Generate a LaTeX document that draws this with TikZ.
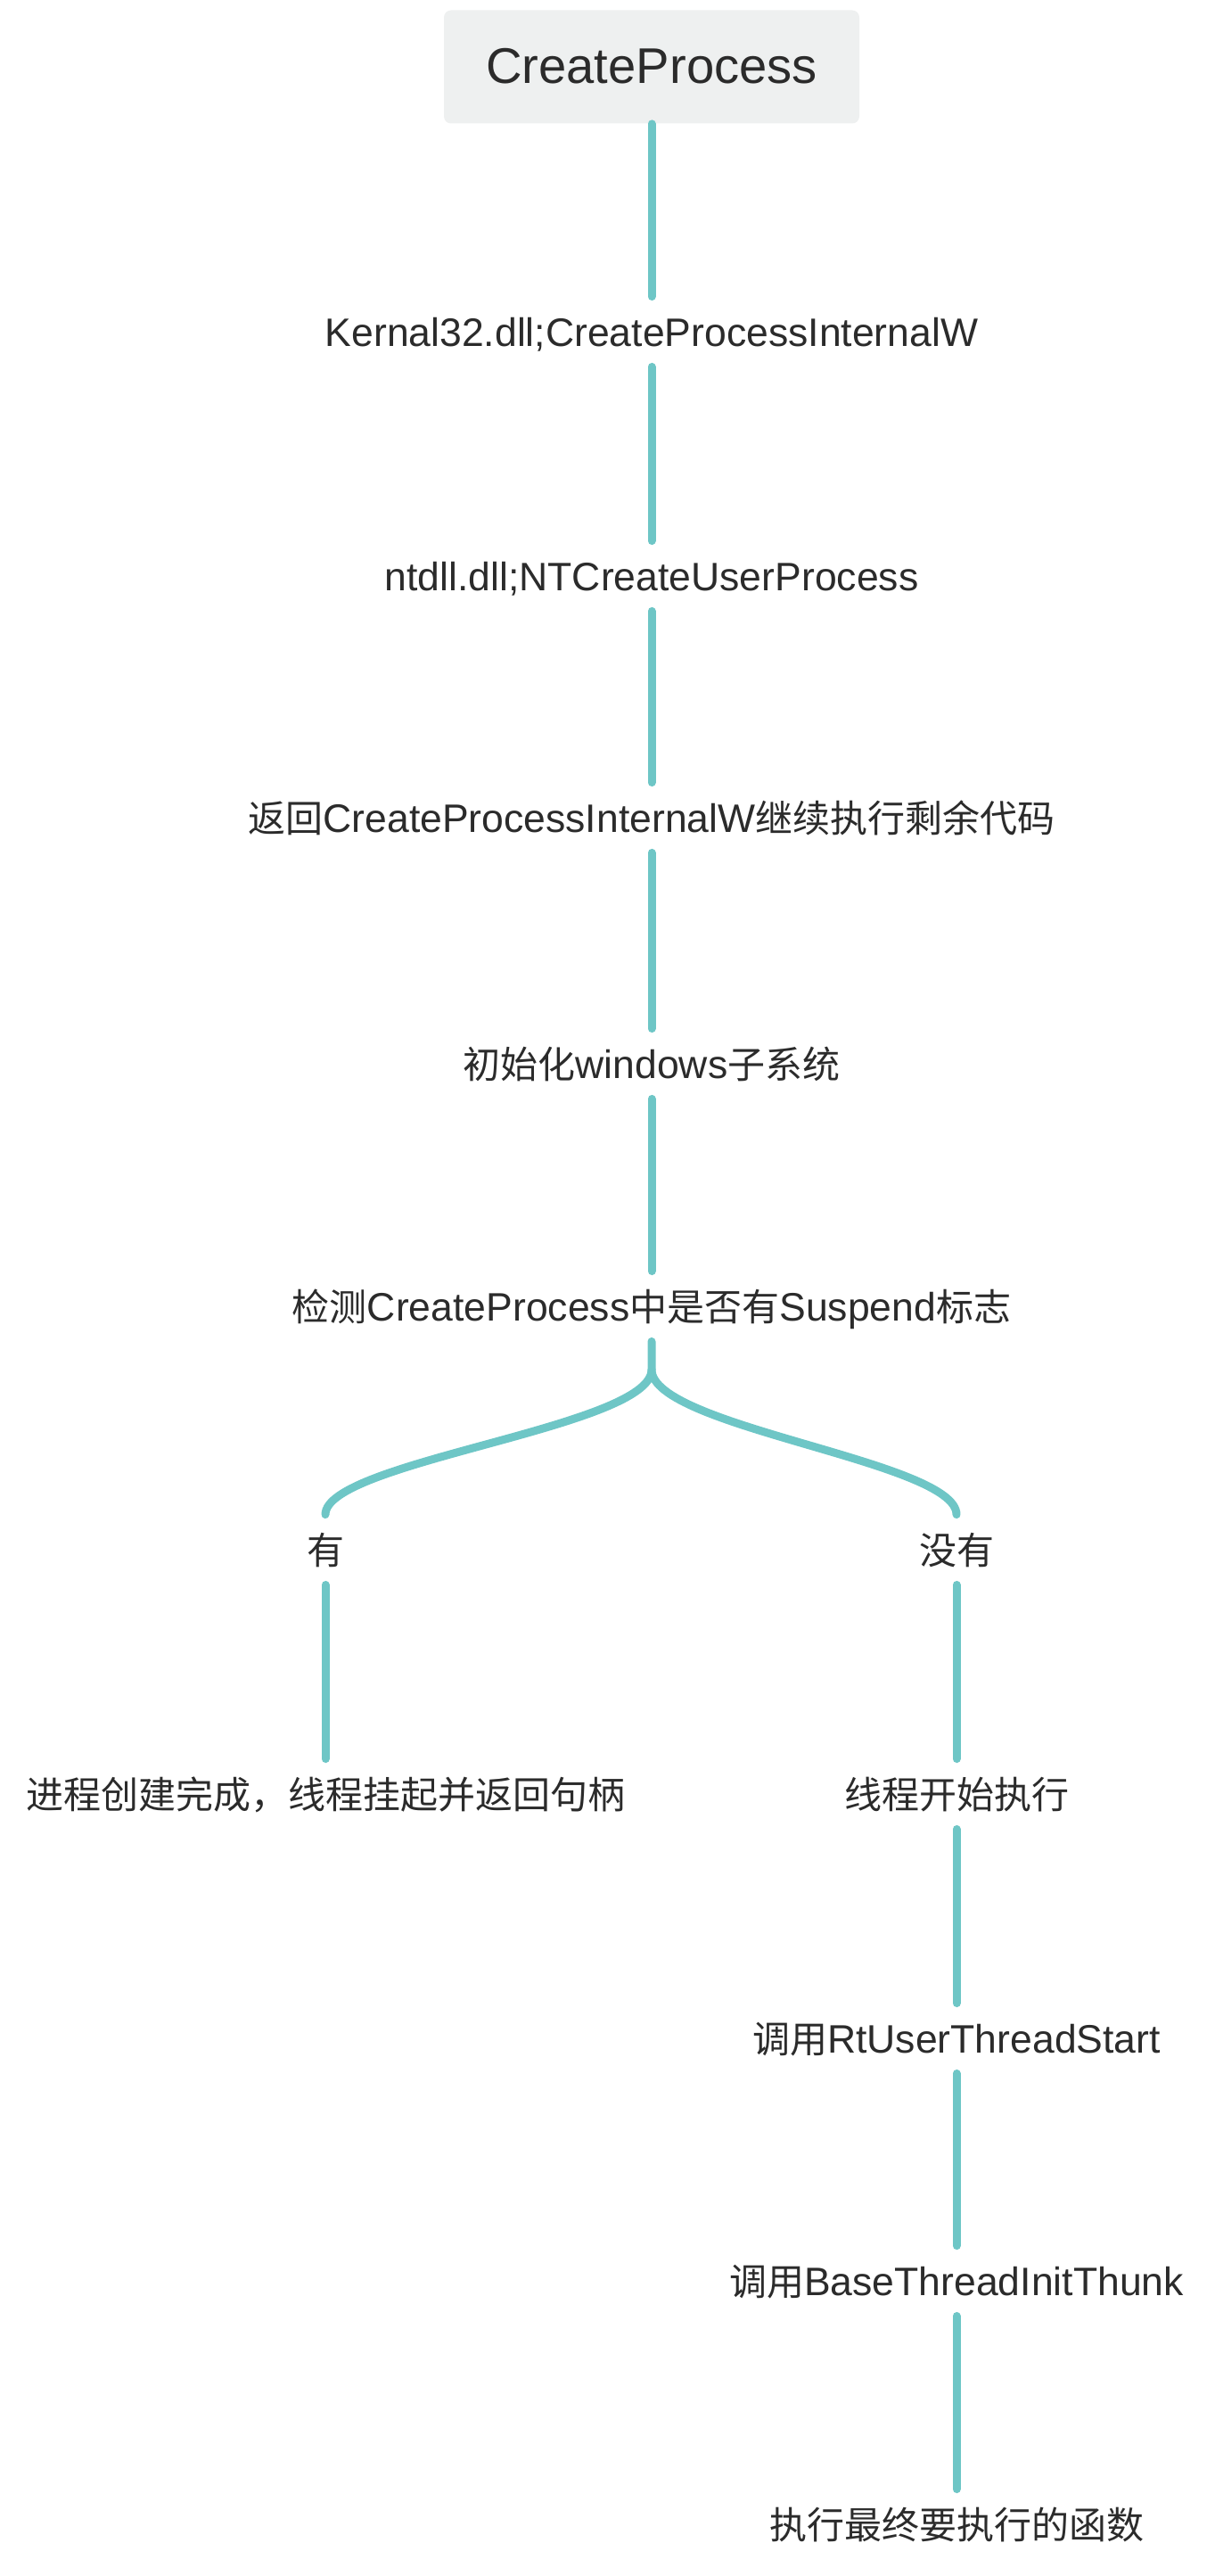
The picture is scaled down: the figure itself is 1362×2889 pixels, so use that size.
\documentclass[tikz,border=0pt]{standalone}
\usepackage{fontspec}
\setmainfont{Liberation Sans}[Scale=1.06]
\newfontfamily\cjk{Noto Sans CJK SC}
\newcommand{\zh}[1]{{\cjk #1}}

\definecolor{branch}{HTML}{6EC6C6}
\definecolor{ink}{HTML}{2B2B2B}
\definecolor{rootfill}{HTML}{EEF0F0}

\tikzset{
  topic/.style={inner sep=0pt, minimum height=39pt, text height=16pt, text depth=0pt,
    text=ink, font=\fontsize{21}{25}\selectfont},
  root/.style={topic, fill=rootfill, rounded corners=4pt, minimum width=233pt,
    minimum height=63.5pt, text height=19pt, font=\fontsize{26.5}{30}\selectfont},
  link/.style={line width=4.5pt, color=branch, line cap=round},
}

\begin{document}
\begin{tikzpicture}[x=0.5pt, y=-0.5pt]
\useasboundingbox (0,0) rectangle (1362,2889);

% main trunk
\node[root] (create) at (731,75) {CreateProcess};
\node[topic] (kernal) at (731,372) {Kernal32.dll;CreateProcessInternalW};
\node[topic] (ntdll) at (731,646) {ntdll.dll;NTCreateUserProcess};
\node[topic] (back) at (731,917) {\zh{返回}CreateProcessInternalW\zh{继续执行剩余代码}};
\node[topic] (initsub) at (731,1193) {\zh{初始化}windows\zh{子系统}};
\node[topic] (check) at (731,1465) {\zh{检测}CreateProcess\zh{中是否有}Suspend\zh{标志}};

% two branches
\node[topic] (yes) at (365,1738) {\zh{有}};
\node[topic] (no) at (1073,1738) {\zh{没有}};
\node[topic] (suspend) at (365,2012) {\zh{进程创建完成，线程挂起并返回句柄}};
\node[topic] (run) at (1073,2012) {\zh{线程开始执行}};
\node[topic] (rtstart) at (1073,2286) {\zh{调用}RtUserThreadStart};
\node[topic] (basethunk) at (1073,2558) {\zh{调用}BaseThreadInitThunk};
\node[topic] (final) at (1073,2831) {\zh{执行最终要执行的函数}};

\foreach \a/\b in {create/kernal, kernal/ntdll, ntdll/back, back/initsub, initsub/check,
    yes/suspend, no/run, run/rtstart, rtstart/basethunk, basethunk/final}
    \draw[link] (\a) -- (\b);

\coordinate (fork) at (731,1536);
\draw[link] (check) -- (fork) .. controls +(0,65) and +(0,-60) .. (yes.north);
\draw[link] (fork) .. controls +(0,65) and +(0,-60) .. (no.north);
%\draw[link, dashed] (fork) -- (731,1700);
\end{tikzpicture}
\end{document}
